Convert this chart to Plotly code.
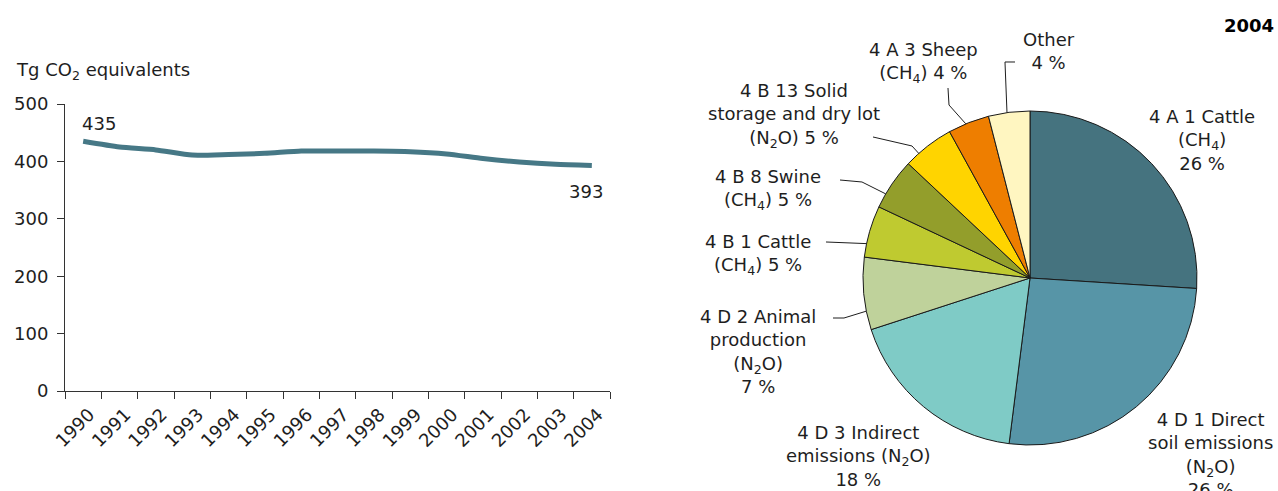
import math
import plotly.graph_objects as go

W, H = 1278, 491
FONT = "DejaVu Sans"
FS = 18
INK = "#1e1e1e"

# ---- data -------------------------------------------------------------
years = [str(y) for y in range(1990, 2005)]
emissions = [435, 425, 420, 411, 412, 414, 418, 418, 418, 417, 413, 405, 399, 395, 393]

sources = [
    "4 A 1 Cattle (CH4)",
    "4 D 1 Direct soil emissions (N2O)",
    "4 D 3 Indirect emissions (N2O)",
    "4 D 2 Animal production (N2O)",
    "4 B 1 Cattle (CH4)",
    "4 B 8 Swine (CH4)",
    "4 B 13 Solid storage and dry lot (N2O)",
    "4 A 3 Sheep (CH4)",
    "Other",
]
shares = [26, 26, 18, 7, 5, 5, 5, 4, 4]
label_templates = [
    "4 A 1 Cattle<br>(CH<sub>4</sub>)<br>{} %",
    "4 D 1 Direct<br>soil emissions<br>(N<sub>2</sub>O)<br>{} %",
    "4 D 3 Indirect<br>emissions (N<sub>2</sub>O)<br>{} %",
    "4 D 2 Animal<br>production<br>(N<sub>2</sub>O)<br>{} %",
    "4 B 1 Cattle<br>(CH<sub>4</sub>) {} %",
    "4 B 8 Swine<br>(CH<sub>4</sub>) {} %",
    "4 B 13 Solid<br>storage and dry lot<br>(N<sub>2</sub>O) {} %",
    "4 A 3 Sheep<br>(CH<sub>4</sub>) {} %",
    "Other<br>{} %",
]
slice_colors = ["#45737f", "#5795a7", "#7fcbc6", "#bfd29b", "#bfca30",
                "#939e2b", "#ffd400", "#ee7e00", "#fff6c1"]

# ---- layout helpers (pixel -> paper) ----------------------------------
def px(x):
    return x / W

def py(y):
    return 1 - y / H

# pie placement in pixels
PIE_CX, PIE_CY, PIE_R = 1030, 278, 167

# label centres (pixels) and leader geometry: (start points, position in slice)
label_pos = [
    (1202, 140), (1210, 454), (858, 456), (758, 351), (758, 254),
    (768, 189), (794, 115), (923, 62), (1049, 51),
]
leaders = {
    3: ([(833, 318), (844, 318)], 0.26),
    4: ([(826, 242)], 0.26),
    5: ([(840, 180), (862, 182)], 0.28),
    6: ([(873, 137), (912, 146)], 0.28),
    7: ([(948, 88), (949, 105)], 0.43),
    8: ([(1015, 62), (1005, 62)], 0.45),
}

fig = go.Figure()

# ---- line chart -------------------------------------------------------
fig.add_trace(go.Scatter(
    x=years, y=emissions, mode="lines",
    line=dict(color="#467886", width=5, shape="spline", smoothing=0.6),
    hoverinfo="skip", showlegend=False,
))

# ---- pie chart --------------------------------------------------------
fig.add_trace(go.Pie(
    labels=sources, values=shares, sort=False, direction="clockwise",
    rotation=0, textinfo="none", showlegend=False,
    marker=dict(colors=slice_colors, line=dict(color="#1a1a1a", width=1)),
    domain=dict(x=[px(PIE_CX - PIE_R), px(PIE_CX + PIE_R)],
                y=[py(PIE_CY + PIE_R), py(PIE_CY - PIE_R)]),
))

annotations = []
shapes = []

# value labels on first and last point (category index positions)
annotations.append(dict(x=0, y=emissions[0], xref="x", yref="y",
                        text=str(emissions[0]), showarrow=False,
                        xanchor="left", yanchor="bottom", xshift=-3, yshift=5,
                        font=dict(family=FONT, size=FS, color=INK)))
annotations.append(dict(x=len(years) - 1, y=emissions[-1], xref="x", yref="y",
                        text=str(emissions[-1]), showarrow=False,
                        xanchor="center", yanchor="top", xshift=-6, yshift=-14,
                        font=dict(family=FONT, size=FS, color=INK)))

# unit label
annotations.append(dict(x=px(14), y=py(71), xref="paper", yref="paper",
                        text="Tg CO<sub>2</sub> equivalents", showarrow=False,
                        xanchor="left", yanchor="middle",
                        font=dict(family=FONT, size=FS, color=INK)))

# pie year title
annotations.append(dict(x=px(1276), y=py(25), xref="paper", yref="paper",
                        text="<b>2004</b>", showarrow=False,
                        xanchor="right", yanchor="middle",
                        font=dict(family=FONT, size=FS, color="#000000")))

# pie slice labels
total = sum(shares)
starts = []
acc = 0
for s in shares:
    starts.append(acc)
    acc += s

for i, (tmpl, s) in enumerate(zip(label_templates, shares)):
    lx, ly = label_pos[i]
    annotations.append(dict(x=px(lx), y=py(ly), xref="paper", yref="paper",
                            text=tmpl.format(s), showarrow=False,
                            xanchor="center", yanchor="middle", align="center",
                            font=dict(family=FONT, size=FS, color=INK)))
    if i in leaders:
        pts, t = leaders[i]
        frac = (starts[i] + t * s) / total
        ang = 2 * math.pi * frac
        ex = PIE_CX + PIE_R * math.sin(ang)
        ey = PIE_CY - PIE_R * math.cos(ang)
        path_pts = pts + [(ex, ey)]
        path = "M " + " L ".join(f"{px(x):.5f},{py(y):.5f}" for x, y in path_pts)
        shapes.append(dict(type="path", path=path, xref="paper", yref="paper",
                           line=dict(color=INK, width=1)))

fig.update_layout(
    width=W, height=H,
    margin=dict(l=0, r=0, t=0, b=0),
    paper_bgcolor="white", plot_bgcolor="white",
    template="none",
    font=dict(family=FONT, size=FS, color=INK),
    annotations=annotations,
    shapes=shapes,
    xaxis=dict(
        domain=[px(65), px(610)], type="category",
        range=[-0.5, len(years) - 0.5],
        tickson="boundaries", ticks="outside", ticklen=7, tickwidth=1,
        tickcolor="#333333", showline=True, linecolor="#333333", linewidth=1,
        showgrid=False, zeroline=False, tickangle=-45, automargin=False,
        ticklabelstandoff=5, ticklabelshift=6,
        tickfont=dict(family=FONT, size=FS, color=INK),
    ),
    yaxis=dict(
        domain=[py(391), py(104)], range=[0, 500],
        tickvals=[0, 100, 200, 300, 400, 500],
        ticks="outside", ticklen=7, tickwidth=1, tickcolor="#333333",
        showline=True, linecolor="#333333", linewidth=1,
        showgrid=False, zeroline=False, automargin=False,
        ticklabelstandoff=5,
        tickfont=dict(family=FONT, size=FS, color=INK),
    ),
)

fig.write_html("out.html")
